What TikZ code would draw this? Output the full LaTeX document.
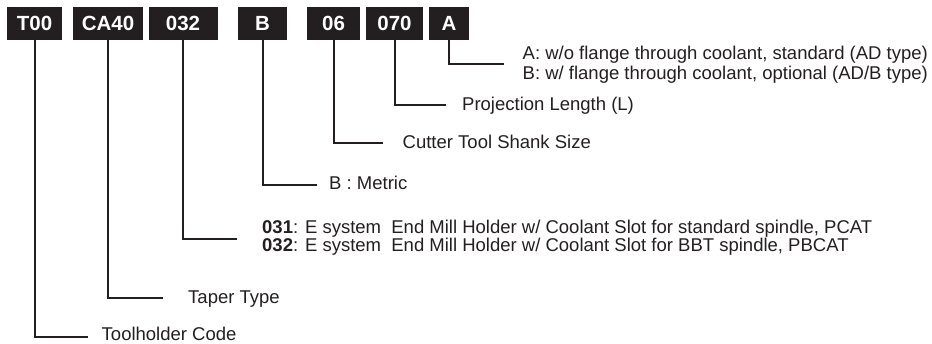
\documentclass[tikz,border=0pt]{standalone}
\usepackage{fontspec}
\setmainfont{Liberation Sans}
\definecolor{ink}{HTML}{231F20}
\begin{document}
\begin{tikzpicture}[x=1pt,y=-1pt,
	code/.style={fill=ink,text=white,font=\fontsize{20.5}{22}\selectfont\bfseries,minimum height=33pt,inner sep=0pt},
	txt/.style={anchor=base west,inner sep=0pt,text=ink,font=\fontsize{18.5}{19.5}\selectfont},
	leader/.style={draw=ink,line width=2pt}]
	
	\useasboundingbox (0,0) rectangle (932,344);
	
	% Kaestchen
	\node[code,minimum width=55pt] (t00)  at (34.5,23.5)  {T00};
	\node[code,minimum width=70pt] (ca40) at (108,23.5)   {CA40};
	\node[code,minimum width=69pt] (c032) at (183,23.5)   {032};
	\node[code,minimum width=49pt] (cB)   at (262.5,23.5) {B};
	\node[code,minimum width=53pt] (c06)  at (333.5,23.5) {06};
	\node[code,minimum width=57pt] (c070) at (394.5,23.5) {070};
	\node[code,minimum width=40pt] (cA)   at (449,23.5)   {A};
	
	% Endpunkte
	\coordinate (eA)    at (504,64);
	\coordinate (e070)  at (446,105);
	\coordinate (e06)   at (383,143);
	\coordinate (eB)    at (317,185);
	\coordinate (e032)  at (237,239);
	\coordinate (eca40) at (163,298);
	\coordinate (et00)  at (88,337);
	
	% Texte
	\node[txt] (lA)  at (522.5,60)  {A: w/o flange through coolant, standard (AD type)};
	\node[txt] (lA2) at (522.5,80)  {B: w/ flange through coolant, optional (AD/B type)};
	\node[txt] (l070) at (462,110.5) {Projection Length (L)};
	\node[txt] (l06)  at (402.5,149) {Cutter Tool Shank Size};
	\node[txt] (lB)   at (329,190) {B : Metric};
	\node[txt] (l031) at (262,234) {\textbf{031}: E system\ \ End Mill Holder w/ Coolant Slot for standard spindle, PCAT};
	\node[txt] (l032) at (262,252) {\textbf{032}: E system\ \ End Mill Holder w/ Coolant Slot for BBT spindle, PBCAT};
	\node[txt] (lca40) at (188,304) {Taper Type};
	\node[txt] (lt00)  at (101.5,341) {Toolholder Code};
	
	% Linien
	\draw[leader] (cA.south)   |- (eA);
	\draw[leader] (c070.south) |- (e070);
	\draw[leader] (c06.south)  |- (e06);
	\draw[leader] (cB.south)   |- (eB);
	\draw[leader] (c032.south) |- (e032);
	\draw[leader] (ca40.south) |- (eca40);
	\draw[leader] (t00.south)  |- (et00);
	
\end{tikzpicture}
\end{document}
